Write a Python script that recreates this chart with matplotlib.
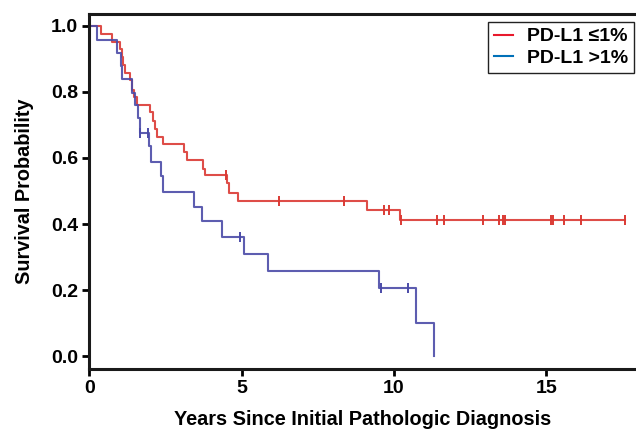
import numpy as np
import matplotlib
matplotlib.use("Agg")
import matplotlib.pyplot as plt
from matplotlib.lines import Line2D

plt.rcParams['font.family'] = ['Liberation Sans', 'DejaVu Sans']
plt.rcParams['font.weight'] = 'bold'

# Kaplan-Meier data
# PD-L1 <=1%
red_times = [0.37, 0.76, 1.01, 1.06, 1.12, 1.17, 1.34, 1.41, 1.47, 1.58, 1.99, 2.08,
             2.17, 2.23, 2.43, 3.10, 3.20, 3.74, 3.79, 4.53, 4.59, 4.89, 9.13, 10.20]
red_surv = [0.976, 0.952, 0.929, 0.907, 0.882, 0.857, 0.836, 0.806, 0.784, 0.759, 0.738, 0.712,
            0.688, 0.664, 0.643, 0.617, 0.595, 0.568, 0.548, 0.523, 0.494, 0.470, 0.442, 0.411]
red_censor = [4.49, 6.24, 8.37, 9.68, 9.85, 10.22, 11.41, 11.63, 12.92, 13.45, 13.57, 13.64,
              15.16, 15.22, 15.58, 16.15, 17.59]
red_end = 17.59

# PD-L1 >1%
blue_times = [0.24, 0.90, 1.03, 1.06, 1.39, 1.50, 1.61, 1.66, 1.96, 2.02, 2.35, 2.43,
              3.45, 3.71, 4.35, 5.09, 5.88, 9.52, 10.72, 11.32]
blue_surv = [0.958, 0.919, 0.879, 0.838, 0.798, 0.760, 0.720, 0.676, 0.636, 0.588, 0.546, 0.497,
             0.452, 0.409, 0.361, 0.308, 0.258, 0.207, 0.100, 0.0]
blue_censor = [1.68, 1.94, 4.95, 9.58, 10.46]
blue_end = 11.32

red_line = '#DB3A34'
blue_line = '#4B4BA8'


def km_curve(times, surv, end):
    t = np.concatenate([[0.0], times, [end]])
    s = np.concatenate([[1.0], surv, [surv[-1]]])
    return t, s


def surv_at(t, times, surv):
    idx = np.searchsorted(times, t, side='right') - 1
    return 1.0 if idx < 0 else surv[idx]


fig = plt.figure(figsize=(6.36, 4.33), dpi=100)
ax = fig.add_axes([89.3 / 636, (433 - 369.3) / 433, 1 - 89.3 / 636, (369.3 - 14) / 433])

for times, surv, cens, end, col in [(red_times, red_surv, red_censor, red_end, red_line),
                                    (blue_times, blue_surv, blue_censor, blue_end, blue_line)]:
    t, s = km_curve(times, surv, end)
    ax.step(t, s, where='post', color=col, lw=1.5, alpha=0.9)
    cy = [surv_at(c, times, surv) for c in cens]
    ax.plot(cens, cy, ls='none', marker='|', ms=7, mew=1.4, color=col)

ax.set_xlim(0, 17.95)
ax.set_ylim(-0.04, 1.036)
ax.set_xticks([0, 5, 10, 15])
ax.set_yticks([0.0, 0.2, 0.4, 0.6, 0.8, 1.0])
ax.set_yticklabels(['0.0', '0.2', '0.4', '0.6', '0.8', '1.0'])
ax.tick_params(width=2, length=5, labelsize=14, direction='out', pad=3)
for lab in ax.get_xticklabels() + ax.get_yticklabels():
    lab.set_fontweight('bold')
ax.spines['right'].set_visible(False)
for sp in ['left', 'bottom', 'top']:
    ax.spines[sp].set_linewidth(2.2)
    ax.spines[sp].set_color('#1a1a1a')

ax.set_xlabel('Years Since Initial Pathologic Diagnosis', fontsize=14.3, fontweight='bold', labelpad=9)
ax.set_ylabel('Survival Probability', fontsize=14.3, fontweight='bold', labelpad=12)

handles = [Line2D([0], [0], color='#E8192C', lw=1.5), Line2D([0], [0], color='#0070B8', lw=1.5)]
leg = ax.legend(handles, ['PD-L1 \u22641%', 'PD-L1 >1%'], loc='upper right',
                bbox_to_anchor=(634 / 636, (433 - 22) / 433), bbox_transform=fig.transFigure,
                borderaxespad=0, fancybox=False, framealpha=1, edgecolor='#222222',
                prop={'weight': 'bold', 'size': 14}, handlelength=1.0, handletextpad=0.7,
                borderpad=0.3, labelspacing=0.2)
leg.get_frame().set_linewidth(1.0)

fig.savefig('out.png', dpi=100)
